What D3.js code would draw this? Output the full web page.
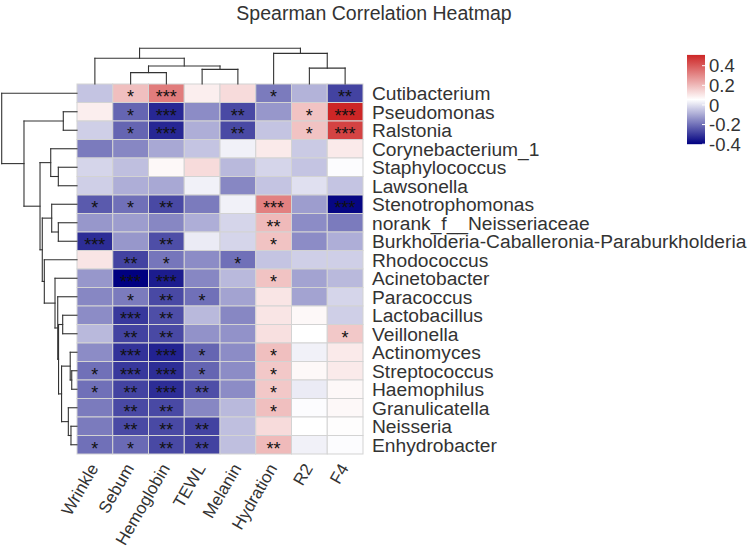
<!DOCTYPE html>
<html><head><meta charset="utf-8">
<script src="https://cdn.jsdelivr.net/npm/d3@7/dist/d3.min.js"></script>
<style>body{margin:0;background:#fff} text{font-family:"Liberation Sans",Arial,sans-serif}</style>
</head><body><svg id="c" width="749" height="554"></svg>
<script>
const title = "Spearman Correlation Heatmap";
const rows = ["Cutibacterium","Pseudomonas","Ralstonia","Corynebacterium_1","Staphylococcus","Lawsonella","Stenotrophomonas","norank_f__Neisseriaceae","Burkholderia-Caballeronia-Paraburkholderia","Rhodococcus","Acinetobacter","Paracoccus","Lactobacillus","Veillonella","Actinomyces","Streptococcus","Haemophilus","Granulicatella","Neisseria","Enhydrobacter"];
const cols = ["Wrinkle","Sebum","Hemoglobin","TEWL","Melanin","Hydration","R2","F4"];
const corr = [
 [-0.05, 0.19, 0.33, 0.09, 0.13,-0.18,-0.08,-0.28],
 [ 0.09,-0.22,-0.33,-0.15,-0.27,-0.13, 0.18, 0.51],
 [-0.03,-0.22,-0.33,-0.09,-0.27,-0.05, 0.18, 0.45],
 [-0.18,-0.16,-0.10,-0.05, 0.03, 0.10,-0.04, 0.10],
 [-0.02,-0.06, 0.07, 0.13,-0.07,-0.02,-0.05, 0.05],
 [-0.03,-0.09,-0.10, 0.03,-0.16,-0.05, 0.00,-0.05],
 [-0.24,-0.20,-0.27,-0.18, 0.03, 0.32,-0.12,-0.39],
 [-0.13,-0.12,-0.16,-0.09,-0.02, 0.20,-0.15,-0.18],
 [-0.32,-0.13,-0.26, 0.02,-0.02, 0.18,-0.15,-0.09],
 [ 0.11,-0.28,-0.19,-0.15,-0.20,-0.05,-0.03,-0.03],
 [-0.13,-0.40,-0.35,-0.16,-0.07, 0.18,-0.11,-0.07],
 [-0.16,-0.18,-0.27,-0.20,-0.11, 0.11,-0.11,-0.02],
 [-0.15,-0.30,-0.26,-0.07,-0.16, 0.11, 0.07,-0.03],
 [-0.07,-0.28,-0.27,-0.14,-0.14, 0.12, 0.055,0.17],
 [-0.15,-0.31,-0.34,-0.22,-0.15, 0.19, 0.03, 0.10],
 [-0.20,-0.30,-0.32,-0.22,-0.15, 0.17, 0.07, 0.10],
 [-0.20,-0.28,-0.32,-0.26,-0.15, 0.17, 0.02, 0.07],
 [-0.18,-0.27,-0.27,-0.16,-0.07, 0.19, 0.05, 0.07],
 [-0.18,-0.27,-0.27,-0.28,-0.06, 0.13, 0.055,0.06],
 [-0.20,-0.21,-0.27,-0.28,-0.06, 0.20, 0.03, 0.05]
];
const stars = [
 ["","*","***","","","*","","**"],
 ["","*","***","","**","","*","***"],
 ["","*","***","","**","","*","***"],
 ["","","","","","","",""],
 ["","","","","","","",""],
 ["","","","","","","",""],
 ["*","*","**","","","***","","***"],
 ["","","","","","**","",""],
 ["***","","**","","","*","",""],
 ["","**","*","","*","","",""],
 ["","***","***","","","*","",""],
 ["","*","**","*","","","",""],
 ["","***","**","","","","",""],
 ["","**","**","","","","","*"],
 ["","***","***","*","","*","",""],
 ["*","***","***","*","","*","",""],
 ["*","**","***","**","","*","",""],
 ["","**","**","","","*","",""],
 ["","**","**","**","","","",""],
 ["*","*","**","**","","**","",""]
];
const legendTicks = [0.4, 0.2, 0, -0.2, -0.4];
// dendrograms: merge heights normalised to root = 1
const rowTree = {h:1, c:["Cutibacterium",
  {h:0.704, c:[
    {h:0.182, c:["Pseudomonas","Ralstonia"]},
    {h:0.491, c:[
      {h:0.349, c:["Corynebacterium_1", {h:0.248, c:["Staphylococcus","Lawsonella"]}]},
      {h:0.461, c:[
        {h:0.336, c:["Stenotrophomonas", {h:0.248, c:["norank_f__Neisseriaceae","Burkholderia-Caballeronia-Paraburkholderia"]}]},
        {h:0.434, c:["Rhodococcus",
          {h:0.292, c:["Acinetobacter",
            {h:0.256, c:["Paracoccus",
              {h:0.245, c:[
                {h:0.19, c:["Lactobacillus","Veillonella"]},
                {h:0.205, c:[
                  {h:0.09, c:["Actinomyces", {h:0.07, c:["Streptococcus","Haemophilus"]}]},
                  {h:0.115, c:["Granulicatella", {h:0.08, c:["Neisseria","Enhydrobacter"]}]}
                ]}
              ]}
            ]}
          ]}
        ]}
      ]}
    ]}
  ]}
]};
const colTree = {h:1, c:[
  {h:0.72, c:["Wrinkle", {h:0.503, c:[{h:0.32, c:["Sebum","Hemoglobin"]},{h:0.409, c:["TEWL","Melanin"]}]}]},
  {h:0.857, c:["Hydration", {h:0.446, c:["R2","F4"]}]}
]};

const svg = d3.select("#c");
const gx0 = 77, gx1 = 363, gy0 = 84, gy1 = 454;
const x = d3.scaleBand().domain(cols).range([gx0, gx1]);
const y = d3.scaleBand().domain(rows).range([gy0, gy1]);
const vmin = d3.min(corr.flat()), vmax = d3.max(corr.flat());
const color = d3.scaleLinear().domain([vmin, (vmin+vmax)/2, vmax]).range(["#000080","#ffffff","#cd2626"]);

// title
svg.append("text").attr("x", 374).attr("y", 20).attr("text-anchor","middle")
  .attr("font-size", 19.5).attr("fill","#333").text(title);

// cells
const cells = [];
rows.forEach((r,i)=>cols.forEach((c,j)=>cells.push({r,c,v:corr[i][j],s:stars[i][j]})));
svg.append("g").selectAll("rect").data(cells).join("rect")
  .attr("x", d=>x(d.c)).attr("y", d=>y(d.r)).attr("width", x.bandwidth()).attr("height", y.bandwidth())
  .attr("fill", d=>color(d.v)).attr("stroke","#d3d3d3").attr("stroke-width",1);
svg.append("g").selectAll("text").data(cells.filter(d=>d.s)).join("text")
  .attr("x", d=>x(d.c)+x.bandwidth()/2).attr("y", d=>y(d.r)+y.bandwidth()/2+10)
  .attr("text-anchor","middle").attr("font-size",18).attr("fill","#111").text(d=>d.s);

// row labels
svg.append("g").selectAll("text").data(rows).join("text")
  .attr("x", gx1+9).attr("y", d=>y(d)+y.bandwidth()/2).attr("dy","0.36em")
  .attr("font-size",19.2).attr("fill","#333").text(d=>d);
// column labels
svg.append("g").selectAll("text").data(cols).join("text")
  .attr("transform", d=>`translate(${x(d)+x.bandwidth()/2+4},${gy1+14}) rotate(-60)`)
  .attr("text-anchor","end").attr("font-size",17).attr("fill","#333").text(d=>d);

// dendrograms
function layout(node, pos){
  if (typeof node === "string") return {p: pos(node), h: 0, leaf:true};
  const ch = node.c.map(n=>layout(n,pos));
  return {p: (ch[0].p + ch[ch.length-1].p)/2, h: node.h, ch};
}
const lines = [];
function rowSegs(n, hs){
  if(!n.ch) return;
  const xn = hs(n.h);
  lines.push([xn, n.ch[0].p, xn, n.ch[n.ch.length-1].p]);
  n.ch.forEach(c=>{ lines.push([xn, c.p, hs(c.h), c.p]); rowSegs(c, hs); });
}
function colSegs(n, hs){
  if(!n.ch) return;
  const yn = hs(n.h);
  lines.push([n.ch[0].p, yn, n.ch[n.ch.length-1].p, yn]);
  n.ch.forEach(c=>{ lines.push([c.p, yn, c.p, hs(c.h)]); colSegs(c, hs); });
}
const rowH = d3.scaleLinear().domain([0,1]).range([gx0, 1.7]);
const colH = d3.scaleLinear().domain([0,1]).range([gy0, 48.3]);
rowSegs(layout(rowTree, r=>y(r)+y.bandwidth()/2), rowH);
colSegs(layout(colTree, c=>x(c)+x.bandwidth()/2), colH);
svg.append("g").selectAll("line").data(lines).join("line")
  .attr("x1",d=>d[0]).attr("y1",d=>d[1]).attr("x2",d=>d[2]).attr("y2",d=>d[3])
  .attr("stroke","#333").attr("stroke-width",1.1).attr("stroke-linecap","square");

// legend
const ly = d3.scaleLinear().domain([-0.4, 0.4]).range([144.2, 65.7]);
const lx = 687, lw = 18;
const defs = svg.append("defs");
const grad = defs.append("linearGradient").attr("id","lg").attr("x1",0).attr("y1",1).attr("x2",0).attr("y2",0);
d3.range(0,1.0001,0.05).forEach(t=>{
  const v = vmin + t*(vmax-vmin);
  grad.append("stop").attr("offset", t).attr("stop-color", color(v));
});
svg.append("rect").attr("x",lx).attr("y",ly(vmax)).attr("width",lw).attr("height",ly(vmin)-ly(vmax)).attr("fill","url(#lg)");
const lg = svg.append("g").selectAll("g").data(legendTicks).join("g");
lg.append("line").attr("x1",lx+lw-3).attr("x2",lx+lw).attr("y1",d=>ly(d)).attr("y2",d=>ly(d)).attr("stroke","#fff").attr("stroke-width",1);
lg.append("text").attr("x",lx+lw+4).attr("y",d=>ly(d)).attr("dy","0.36em").attr("font-size",18.5).attr("fill","#333").text(d=>d);
</script></body></html>
